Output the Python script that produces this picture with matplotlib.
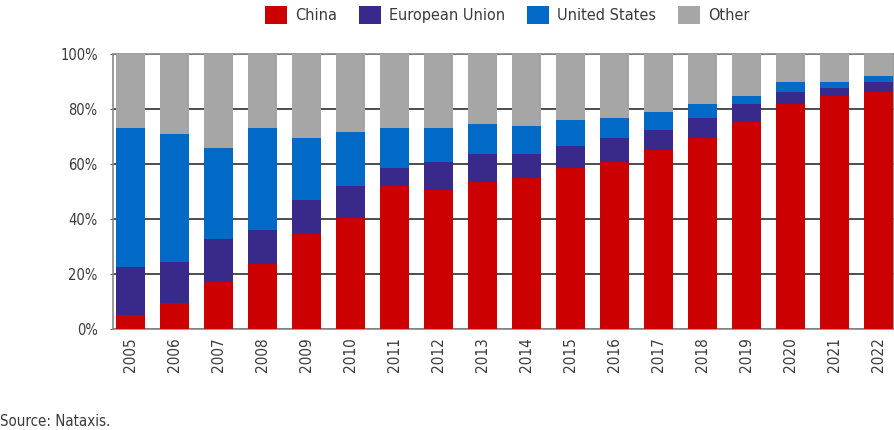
import matplotlib
matplotlib.use("Agg")
import matplotlib.pyplot as plt
from matplotlib import font_manager
from matplotlib.patches import Patch

years = [str(y) for y in range(2005, 2023)]
china = [5.2, 9.6, 17.0, 23.5, 34.4, 40.2, 52.0, 50.4, 53.3, 54.8, 58.4, 60.6,
         65.0, 69.3, 75.2, 81.7, 84.6, 86.1]
eu_top = [22.7, 24.2, 32.8, 35.9, 46.8, 52.0, 58.4, 60.6, 63.5, 63.5, 66.4, 69.3,
          72.2, 76.6, 81.7, 86.1, 87.5, 89.7]
us_top = [73.0, 70.8, 65.7, 73.0, 69.3, 71.5, 73.0, 73.0, 74.4, 73.7, 75.9, 76.6,
          78.8, 81.7, 84.6, 89.7, 89.7, 91.9]

eu = [round(e - c, 1) for e, c in zip(eu_top, china)]
us = [round(u - e, 1) for u, e in zip(us_top, eu_top)]
other = [round(100 - u, 1) for u in us_top]

series = [("China", china, "#CC0000"),
          ("European Union", eu, "#39298B"),
          ("United States", us, "#006AC6"),
          ("Other", other, "#A6A6A6")]

# condensed face if the system has one
names = {(f.name, f.stretch) for f in font_manager.fontManager.ttflist}
if any(n == "DejaVu Sans" and s == "condensed" for n, s in names):
    plt.rcParams["font.stretch"] = "condensed"
plt.rcParams["font.family"] = "DejaVu Sans"
txt = "#3a3a3a"

fig = plt.figure(figsize=(8.95, 4.30), dpi=100)
ax = fig.add_axes([113 / 895, 1 - 329 / 430, (894 - 113) / 895, (329 - 54) / 430])

x = range(len(years))
bottom = [0.0] * len(years)
for name, vals, col in series:
    ax.bar(x, vals, bottom=bottom, width=0.66, color=col, zorder=3, label=name)
    bottom = [b + v for b, v in zip(bottom, vals)]

ax.set_xlim(-0.39, len(years) - 1 + 0.35)
ax.set_ylim(0, 100)
ax.set_yticks([0, 20, 40, 60, 80, 100])
ax.set_yticklabels([f"{t}%" for t in range(0, 101, 20)], fontsize=10.5, color=txt)
ax.set_xticks(list(x))
ax.set_xticklabels(years, rotation=90, fontsize=11, color=txt)
ax.tick_params(axis="x", length=0, pad=6)
ax.tick_params(axis="y", length=2, color="#555555", pad=9)
ax.grid(axis="y", color="#4d4d4d", linewidth=1.4, zorder=1)
for s in ax.spines.values():
    s.set_color("#8a8a8a")
    s.set_linewidth(1.2)

handles = [Patch(facecolor=c, edgecolor="none") for _, _, c in series]
fig.legend(handles, [n for n, _, _ in series], loc="center",
           bbox_to_anchor=(507 / 895, 1 - 15 / 430), ncol=4, frameon=False,
           fontsize=11.6, handlelength=1.37, handleheight=1.3, handletextpad=0.5,
           columnspacing=1.35, labelcolor=txt)

fig.text(0, 1 - 422 / 430, "Source: Nataxis.", fontsize=10.8, color=txt,
         va="center", ha="left")

fig.savefig("out.png", dpi=100)
